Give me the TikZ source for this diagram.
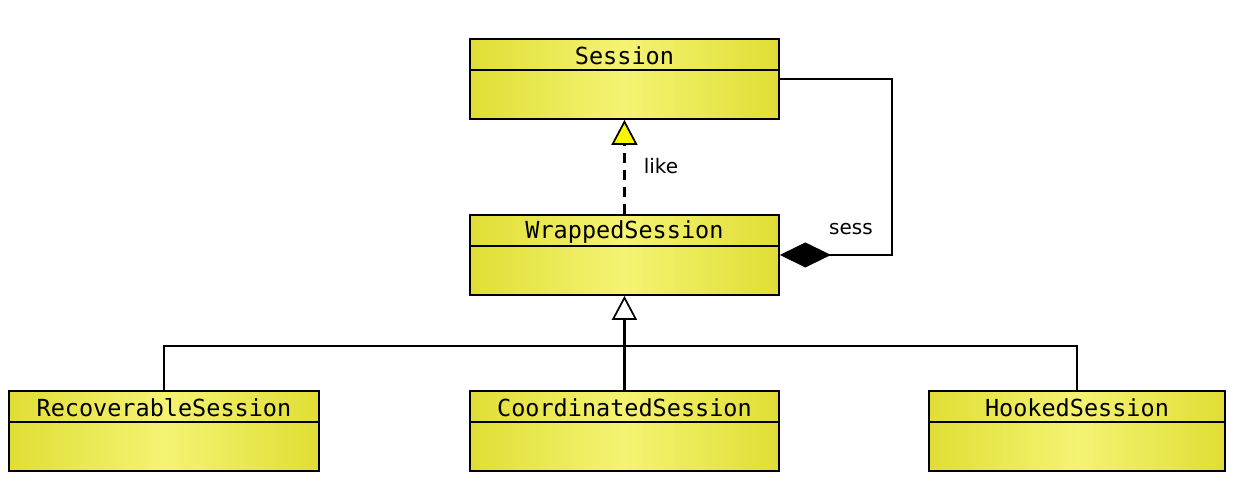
\documentclass[tikz,border=0pt]{standalone}
\usepackage{fontspec}
\setmainfont{DejaVu Sans}
\setmonofont{DejaVu Sans Mono}
\usetikzlibrary{arrows.meta,shadings}
\definecolor{edgeY}{RGB}{224,222,52}
\definecolor{midY}{RGB}{245,243,115}
\definecolor{triY}{RGB}{250,245,0}
\tikzset{
  cls/.style={draw=black, line width=1.9pt, rectangle, anchor=north west,
    minimum height=80pt, inner sep=0pt,
    left color=edgeY, right color=edgeY, middle color=midY},
  clsname/.style={font=\ttfamily\fontsize{23.5}{26}\selectfont, anchor=center, inner sep=0pt},
  conn/.style={line width=1.7pt, draw=black},
  lbl/.style={font=\fontsize{20}{24}\selectfont, inner sep=0pt},
  gen/.style={conn, -{Triangle[open, length=24pt, width=25pt, line width=1.7pt]}},
  real/.style={conn, line width=2.2pt, dash pattern=on 10pt off 7pt, -{Triangle[fill=triY, length=25pt, width=26pt, line width=1.7pt]}},
  comp/.style={conn, {Diamond[fill=black, length=51pt, width=25pt, line width=1pt]}-},
}
\begin{document}
\begin{tikzpicture}[x=1pt, y=-1pt]
\useasboundingbox (0,0) rectangle (1238,500);
% classes
\node[cls, minimum width=309pt] (ss) at (469,38) {};
\node[cls, minimum width=309pt] (wr) at (469,214) {};
\node[cls, minimum width=310pt] (rc) at (8,390) {};
\node[cls, minimum width=309pt] (co) at (469,390) {};
\node[cls, minimum width=296pt] (hk) at (928,390) {};
% separators
\foreach \n in {ss,wr,rc,co,hk}{
  \draw[conn] ([yshift=-32pt]\n.north west) -- ([yshift=-32pt]\n.north east);
}
% names
\node[clsname] (ssn) at ([yshift=-18pt]ss.north) {Session};
\node[clsname] (wrn) at ([yshift=-18pt]wr.north) {WrappedSession};
\node[clsname] (rcn) at ([yshift=-18pt]rc.north) {RecoverableSession};
\node[clsname] (con) at ([yshift=-18pt]co.north) {CoordinatedSession};
\node[clsname] (hkn) at ([yshift=-18pt]hk.north) {HookedSession};
% realization
\draw[real] (wr.north) -- (ss.south);
\node[lbl] (like) at (661,166) {like};
% composition
\draw[comp] (wr.east) -- ++(112,0) |- (ss.east);
\node[lbl] (sess) at (851,229) {sess};
% generalization
\draw[gen, line width=2.2pt] (co.north) -- (wr.south);
\coordinate (busl) at (rc.north |- 0,346);
\coordinate (busr) at (hk.north |- 0,346);
\draw[conn] (rc.north) -- (busl) -- (busr) -- (hk.north);
\end{tikzpicture}
\end{document}
